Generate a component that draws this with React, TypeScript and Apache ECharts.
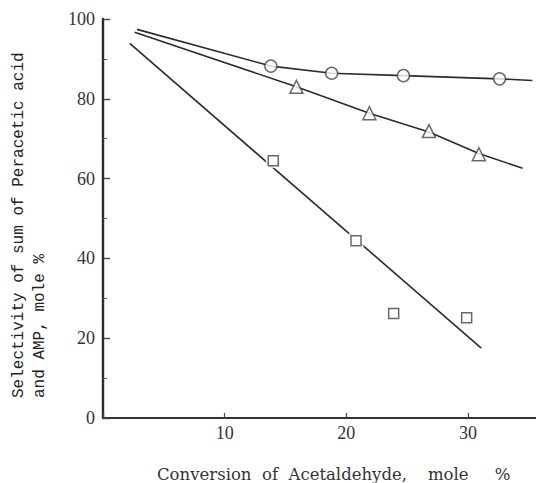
import React, { useEffect, useRef } from "react";
import * as echarts from "echarts";

// Marker data (Conversion of Acetaldehyde, mole % vs Selectivity, mole %)
const circleX = [13.8, 18.8, 24.7, 32.6];
const circleY = [88.2, 86.4, 85.8, 85.0];
const triangleX = [15.9, 21.9, 26.8, 30.9];
const triangleY = [83.0, 76.4, 71.9, 66.1];
const squareX = [14.0, 20.8, 23.9, 29.9];
const squareY = [64.5, 44.4, 26.2, 25.1];

// Drawn curves
const circleFitX = [2.8, 13.8, 18.8, 24.7, 32.6, 35.3];
const circleFitY = [97.4, 88.2, 86.4, 85.8, 85.0, 84.6];
const triangleFitX = [2.6, 15.9, 21.9, 26.8, 30.9, 34.5];
const triangleFitY = [96.7, 83.0, 76.4, 71.7, 66.3, 62.6];
const squareFitX = [2.2, 31.1];
const squareFitY = [93.9, 17.5];

const xTicks = [0, 10, 20, 30];
const yTicks = [0, 20, 40, 60, 80, 100];

const xTitle = "Conversion  of  Acetaldehyde,    mole     %";
const yTitle1 = "Selectivity of sum of Peracetic acid";
const yTitle2 = "and AMP, mole %";

const zip = (xs: number[], ys: number[]) => xs.map((x, i) => [x, ys[i]]);

const INK = "#2b2b2b";

export default function App() {
  const ref = useRef<HTMLDivElement>(null);
  useEffect(() => {
    if (!ref.current) return;
    const chart = echarts.init(ref.current, null, { renderer: "svg" });
    const lineStyle = { color: INK, width: 1.6 };
    const markerStyle = { color: "#ffffff", borderColor: "#444", borderWidth: 1.5 };
    chart.setOption({
      animation: false,
      backgroundColor: "#ffffff",
      grid: { left: 103, top: 19, width: 433, height: 399, containLabel: false },
      xAxis: {
        type: "value",
        min: xTicks[0],
        max: 35.6,
        interval: 10,
        axisLine: { show: true, lineStyle: { color: "#333", width: 2 } },
        axisTick: { show: true, inside: true, length: 5, lineStyle: { color: "#444", width: 1.2 } },
        splitLine: { show: false },
        axisLabel: {
          color: "#333",
          fontFamily: "Liberation Serif",
          fontSize: 18,
          margin: 6,
          showMaxLabel: false,
          formatter: (v: number) => (v === 0 ? "" : String(v)),
        },
      },
      yAxis: {
        type: "value",
        min: yTicks[0],
        max: yTicks[yTicks.length - 1],
        interval: 20,
        axisLine: { show: true, lineStyle: { color: "#2a2a2a", width: 2.4 } },
        axisTick: { show: true, inside: true, length: 7, lineStyle: { color: "#444", width: 1.4 } },
        minorTick: { show: true, splitNumber: 2, length: 4, lineStyle: { color: "#555", width: 1 } },
        splitLine: { show: false },
        axisLabel: {
          color: "#333",
          fontFamily: "Liberation Serif",
          fontSize: 18,
          margin: 8,
        },
      },
      graphic: [
        {
          type: "text",
          x: 19,
          y: 398,
          rotation: Math.PI / 2,
          style: {
            text: yTitle1,
            font: "16px 'Liberation Mono'",
            fill: "#222",
            textAlign: "left",
            textVerticalAlign: "middle",
            align: "left",
            verticalAlign: "middle",
          },
        },
        {
          type: "text",
          x: 40,
          y: 398,
          rotation: Math.PI / 2,
          style: {
            text: yTitle2,
            font: "16px 'Liberation Mono'",
            fill: "#222",
            textAlign: "left",
            textVerticalAlign: "middle",
            align: "left",
            verticalAlign: "middle",
          },
        },
        {
          type: "text",
          x: 157,
          y: 474,
          style: {
            text: xTitle,
            font: "16.5px 'DejaVu Serif'",
            fill: "#333",
            textAlign: "left",
            textVerticalAlign: "middle",
            align: "left",
            verticalAlign: "middle",
          },
        },
      ],
      series: [
        { type: "line", data: zip(circleFitX, circleFitY), symbol: "none", lineStyle, z: 1 },
        { type: "line", data: zip(triangleFitX, triangleFitY), symbol: "none", lineStyle, z: 1 },
        { type: "line", data: zip(squareFitX, squareFitY), symbol: "none", lineStyle, z: 1 },
        {
          type: "scatter",
          data: zip(squareX, squareY),
          symbol: "rect",
          symbolSize: 15,
          itemStyle: { color: "#ffffff" },
          z: 2,
        },
        { type: "scatter", data: zip(circleX, circleY), symbol: "circle", symbolSize: 12, itemStyle: markerStyle, z: 3 },
        { type: "scatter", data: zip(triangleX, triangleY), symbol: "triangle", symbolSize: 13, itemStyle: markerStyle, z: 3 },
        { type: "scatter", data: zip(squareX, squareY), symbol: "rect", symbolSize: 10, itemStyle: markerStyle, z: 3 },
      ],
    });
    return () => chart.dispose();
  }, []);
  return (
    <div
      ref={ref}
      style={{ position: "fixed", left: 0, top: 0, width: 536, height: 483, background: "#fff" }}
    />
  );
}
